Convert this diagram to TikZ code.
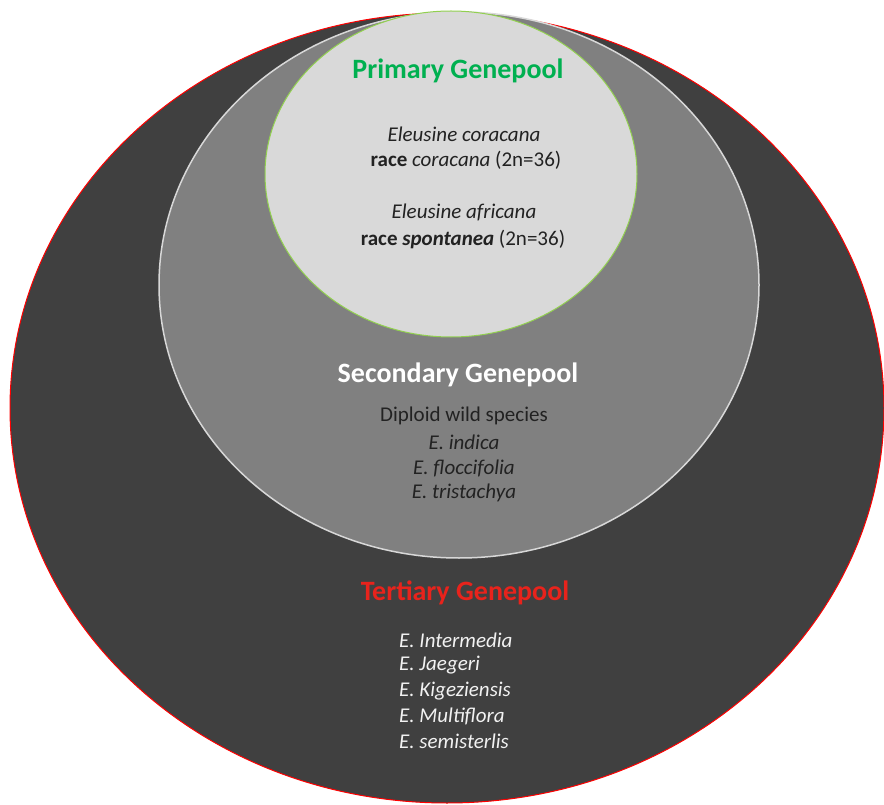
\documentclass[tikz,border=0pt]{standalone}
\usepackage{fontspec}
\setmainfont{Carlito}
\definecolor{darkpool}{HTML}{404040}
\definecolor{midpool}{HTML}{808080}
\definecolor{lightpool}{HTML}{D9D9D9}
\definecolor{primgreen}{HTML}{00B050}
\definecolor{terred}{HTML}{E8231C}
\definecolor{inkdark}{HTML}{222222}
\definecolor{inklight}{HTML}{F2F2F2}
\definecolor{edgegreen}{HTML}{92D050}
\definecolor{edgewhite}{HTML}{D8D8D8}
\begin{document}
\begin{tikzpicture}[x=1pt,y=-1pt,
  outerpool/.style={draw=red, line width=1pt, fill=darkpool},
  secpool/.style={draw=edgewhite, line width=1.5pt, fill=midpool},
  primpool/.style={draw=edgegreen, line width=1pt, fill=lightpool},
  heading/.style={font=\fontsize{28}{32}\selectfont\bfseries, inner sep=0pt, anchor=center},
  body/.style={font=\fontsize{21}{24}\selectfont, inner sep=0pt, anchor=center},
  listtext/.style={font=\fontsize{21}{24}\selectfont\itshape, inner sep=0pt, anchor=west, text=inklight}]
\useasboundingbox (0,0) rectangle (884,805);
\clip (0,0) rectangle (884,805);
\fill[white] (0,0) rectangle (884,805);
\draw[outerpool] (447,408) ellipse [x radius=437, y radius=395];
\draw[secpool] (459,285) ellipse [x radius=300, y radius=273];
\draw[primpool] (451,174) ellipse [x radius=186, y radius=163];
% primary
\node[heading, text=primgreen] (ph) at (458,71) {Primary Genepool};
\node[body, text=inkdark] (p1) at (464,134) {\itshape Eleusine coracana};
\node[body, text=inkdark] (p2) at (466,160) {\textbf{race} \textit{coracana} (2n=36)};
\node[body, text=inkdark] (p3) at (464,212) {\itshape Eleusine africana};
\node[body, text=inkdark] (p4) at (463,239) {\textbf{race \textit{spontanea}} (2n=36)};
% secondary
\node[heading, text=white] (sh) at (458,375) {Secondary Genepool};
\node[body, text=inkdark] (s1) at (464,416) {Diploid wild species};
\node[body, text=inkdark] (s2) at (464,442) {\itshape E. indica};
\node[body, text=inkdark] (s3) at (464,468) {\itshape E. floccifolia};
\node[body, text=inkdark] (s4) at (464,493) {\itshape E. tristachya};
% tertiary
\node[heading, text=terred] (th) at (465,593) {Tertiary Genepool};
\node[listtext] (t1) at (399,640) {E. Intermedia};
\node[listtext] (t2) at (399,665) {E. Jaegeri};
\node[listtext] (t3) at (399,691) {E. Kigeziensis};
\node[listtext] (t4) at (399,716) {E. Multiflora};
\node[listtext] (t5) at (399,741) {E. semisterlis};
\end{tikzpicture}
\end{document}
